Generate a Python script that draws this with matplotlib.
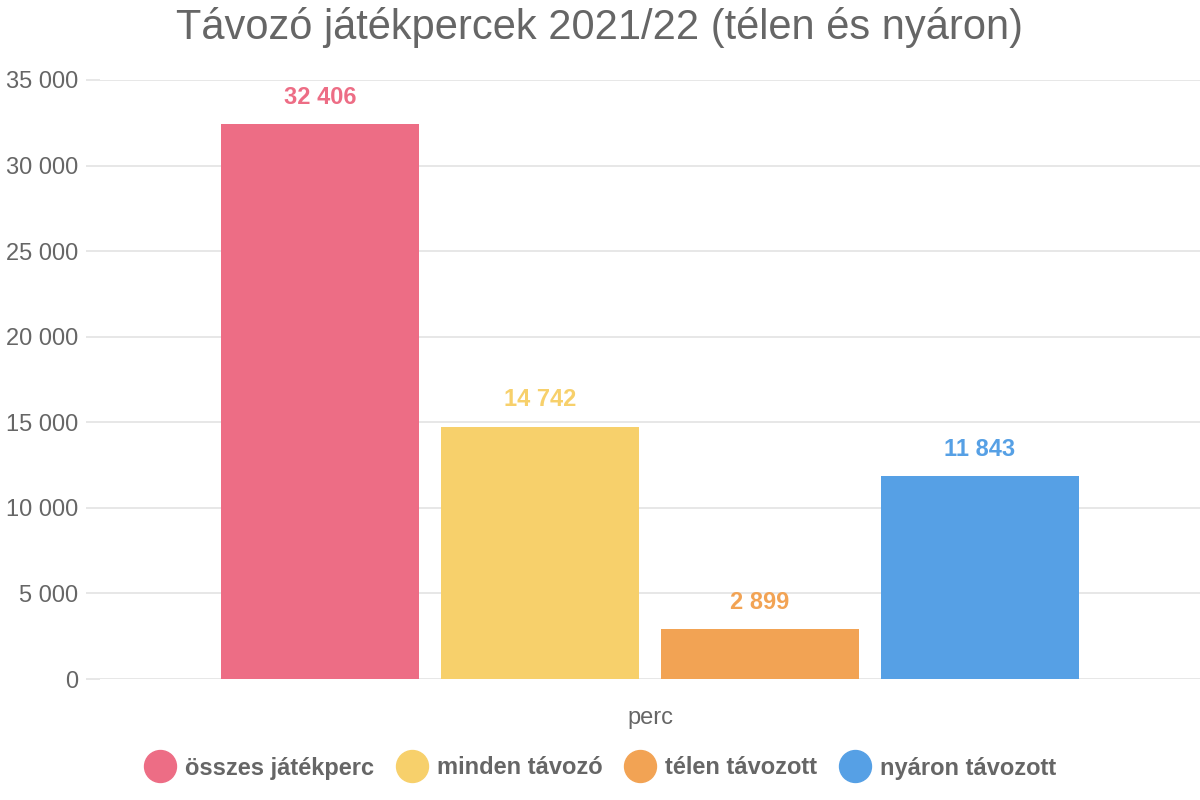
import matplotlib.pyplot as plt
from matplotlib.lines import Line2D
from matplotlib.ticker import FuncFormatter

plt.rcParams['font.family'] = ['Liberation Sans', 'DejaVu Sans']

# data
categories = ['összes játékperc', 'minden távozó', 'télen távozott', 'nyáron távozott']
values = [32406, 14742, 2899, 11843]
colors = ['#ED6D85', '#F7D06B', '#F2A354', '#56A0E5']
group_label = 'perc'
title = 'Távozó játékpercek 2021/22 (télen és nyáron)'

gray = '#666666'
gridcol = '#e3e3e3'

def fmt(v, pos=None):
    return f"{int(v):,}".replace(",", " ")

fig = plt.figure(figsize=(12, 8), dpi=100)
ax = fig.add_axes([100/1200, 1-679/800, 1100/1200, 599/800])

n = len(values)
slot = 0.8 / n
width = slot * 0.9
for i, (cat, v, c) in enumerate(zip(categories, values, colors)):
    x = (i - (n-1)/2) * slot
    ax.bar(x, v, width=width, color=c, zorder=3)
    ax.annotate(fmt(v), (x, v), xytext=(0, 19.5), textcoords='offset points',
                ha='center', va='center', fontsize=17, fontweight='bold', color=c)

ax.set_xlim(-0.5, 0.5)
ax.set_ylim(0, 35000)
ax.set_yticks(range(0, 35001, 5000))
ax.yaxis.set_major_formatter(FuncFormatter(fmt))
ax.set_xticks([0])
ax.set_xticklabels([group_label])
ax.tick_params(axis='y', length=10, width=1.2, color=gridcol, pad=6,
               labelsize=17, labelcolor=gray)
ax.tick_params(axis='x', length=0, pad=20, labelsize=17, labelcolor=gray)
ax.grid(axis='y', color=gridcol, linewidth=1.2, zorder=0)
for s in ax.spines.values():
    s.set_visible(False)

fig.text(0.5, 1-27/800, title, ha='center', va='center', fontsize=30, color=gray)

handles = [Line2D([0], [0], marker='o', linestyle='none', markersize=23,
                  markerfacecolor=c, markeredgecolor=c, label=cat)
           for cat, c in zip(categories, colors)]
leg = fig.legend(handles=handles, loc='center', bbox_to_anchor=(0.5, 1-768/800),
                 ncol=4, frameon=False, handlelength=1.4, handletextpad=0.35,
                 columnspacing=0.9, prop={'size': 17, 'weight': 'bold'})
for t in leg.get_texts():
    t.set_color(gray)

fig.savefig('out.png', dpi=100)
